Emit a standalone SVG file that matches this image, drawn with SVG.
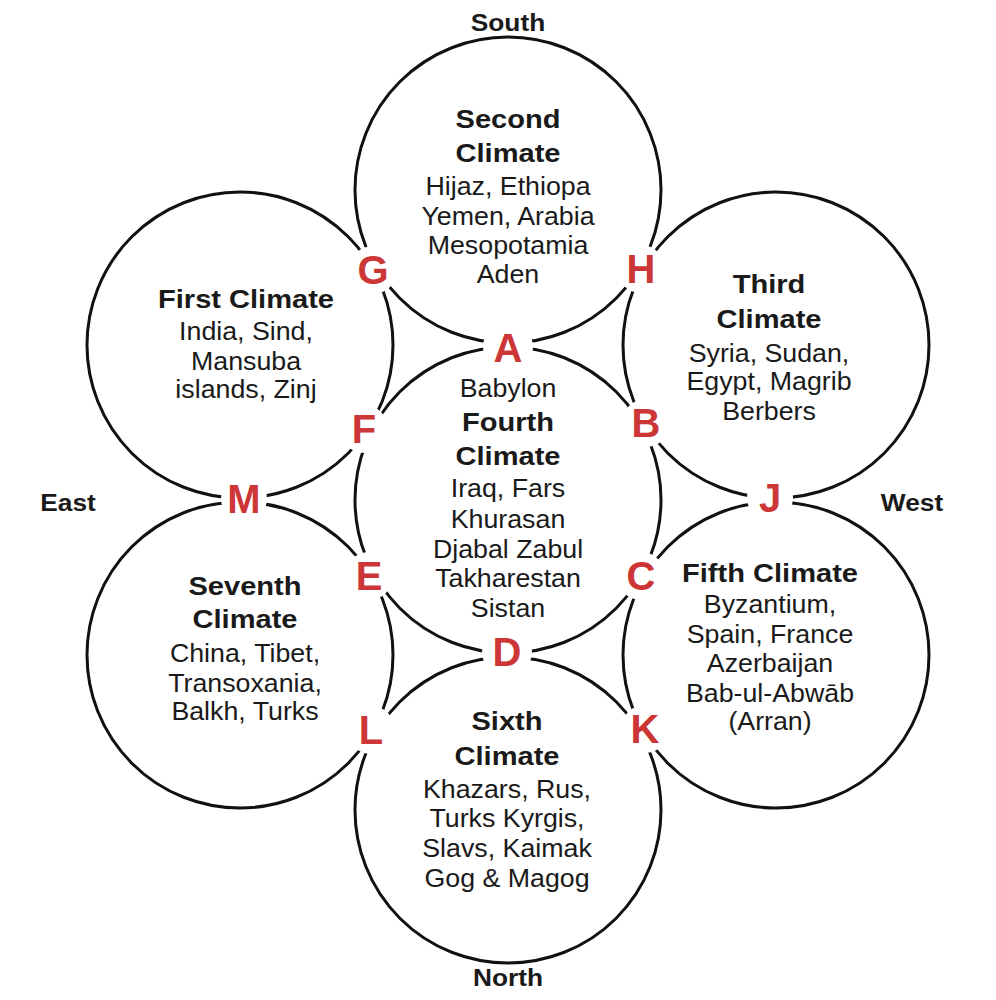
<svg xmlns="http://www.w3.org/2000/svg" width="996" height="1000" viewBox="0 0 996 1000">
<style>
.ring{fill:none;stroke:#111;stroke-width:3}
.gap{fill:#fff;stroke:none}
.t{font-family:"Liberation Sans",Arial,sans-serif;font-weight:bold;font-size:25.5px;fill:#1a1a1a;text-anchor:middle}
.b{font-family:"Liberation Sans",Arial,sans-serif;font-size:25.5px;fill:#1a1a1a;text-anchor:middle}
.L{font-family:"Liberation Sans",Arial,sans-serif;font-weight:bold;font-size:40px;fill:#cd3636;text-anchor:middle}
.d{font-family:"Liberation Sans",Arial,sans-serif;font-weight:bold;font-size:23.5px;fill:#1a1a1a;text-anchor:middle}
</style>
<rect width="996" height="1000" fill="#fff"/>
<g id="circles">
<circle id="ring-2" class="ring" cx="508" cy="190" r="153"/>
<circle id="ring-1" class="ring" cx="240" cy="345" r="153"/>
<circle id="ring-3" class="ring" cx="776" cy="345" r="153"/>
<circle id="ring-4" class="ring" cx="508" cy="500" r="153"/>
<circle id="ring-7" class="ring" cx="240" cy="655" r="153"/>
<circle id="ring-5" class="ring" cx="776" cy="655" r="153"/>
<circle id="ring-6" class="ring" cx="508" cy="810" r="153"/>
</g>
<g id="gaps">
<circle class="gap" cx="508" cy="347" r="25"/>
<circle class="gap" cx="373" cy="270" r="24"/>
<circle class="gap" cx="641" cy="269" r="24"/>
<circle class="gap" cx="364" cy="429" r="24"/>
<circle class="gap" cx="646" cy="423" r="24"/>
<circle class="gap" cx="244" cy="499" r="23"/>
<circle class="gap" cx="770" cy="498" r="23"/>
<circle class="gap" cx="369" cy="576" r="24"/>
<circle class="gap" cx="641" cy="576" r="24"/>
<circle class="gap" cx="507" cy="652" r="25"/>
<circle class="gap" cx="371" cy="730" r="24"/>
<circle class="gap" cx="645" cy="729" r="24"/>
</g>
<g id="climate-2">
<g transform="translate(508 0) scale(1.14 1)"><text class="t" x="0" y="128">Second</text><text class="t" x="0" y="162">Climate</text></g>
<g transform="translate(508 0) scale(1.05 1)"><text class="b" x="0" y="195">Hijaz, Ethiopa</text><text class="b" x="0" y="225">Yemen, Arabia</text><text class="b" x="0" y="254">Mesopotamia</text><text class="b" x="0" y="283">Aden</text></g>
</g>
<g id="climate-1">
<g transform="translate(246 0) scale(1.14 1)"><text class="t" x="0" y="308">First Climate</text></g>
<g transform="translate(246 0) scale(1.05 1)"><text class="b" x="0" y="340">India, Sind,</text><text class="b" x="0" y="370">Mansuba</text><text class="b" x="0" y="398">islands, Zinj</text></g>
</g>
<g id="climate-3">
<g transform="translate(769 0) scale(1.14 1)"><text class="t" x="0" y="293">Third</text><text class="t" x="0" y="328">Climate</text></g>
<g transform="translate(769 0) scale(1.05 1)"><text class="b" x="0" y="362">Syria, Sudan,</text><text class="b" x="0" y="390">Egypt, Magrib</text><text class="b" x="0" y="420">Berbers</text></g>
</g>
<g id="climate-4">
<g transform="translate(508 0) scale(1.05 1)"><text class="b" x="0" y="397">Babylon</text></g>
<g transform="translate(508 0) scale(1.14 1)"><text class="t" x="0" y="431">Fourth</text><text class="t" x="0" y="465">Climate</text></g>
<g transform="translate(508 0) scale(1.05 1)"><text class="b" x="0" y="497">Iraq, Fars</text><text class="b" x="0" y="528">Khurasan</text><text class="b" x="0" y="558">Djabal Zabul</text><text class="b" x="0" y="587">Takharestan</text><text class="b" x="0" y="617">Sistan</text></g>
</g>
<g id="climate-5">
<g transform="translate(770 0) scale(1.14 1)"><text class="t" x="0" y="582">Fifth Climate</text></g>
<g transform="translate(770 0) scale(1.05 1)"><text class="b" x="0" y="613">Byzantium,</text><text class="b" x="0" y="643">Spain, France</text><text class="b" x="0" y="672">Azerbaijan</text><text class="b" x="0" y="702">Bab-ul-Abwāb</text><text class="b" x="0" y="730">(Arran)</text></g>
</g>
<g id="climate-6">
<g transform="translate(507 0) scale(1.14 1)"><text class="t" x="0" y="730">Sixth</text><text class="t" x="0" y="765">Climate</text></g>
<g transform="translate(507 0) scale(1.05 1)"><text class="b" x="0" y="798">Khazars, Rus,</text><text class="b" x="0" y="827">Turks Kyrgis,</text><text class="b" x="0" y="857">Slavs, Kaimak</text><text class="b" x="0" y="887">Gog &amp; Magog</text></g>
</g>
<g id="climate-7">
<g transform="translate(245 0) scale(1.14 1)"><text class="t" x="0" y="595">Seventh</text><text class="t" x="0" y="628">Climate</text></g>
<g transform="translate(245 0) scale(1.05 1)"><text class="b" x="0" y="662">China, Tibet,</text><text class="b" x="0" y="692">Transoxania,</text><text class="b" x="0" y="720">Balkh, Turks</text></g>
</g>
<g id="junctions">
<text id="j-A" class="L" x="508" y="362">A</text>
<text id="j-G" class="L" x="373" y="284">G</text>
<text id="j-H" class="L" x="641" y="283">H</text>
<text id="j-F" class="L" x="364" y="443">F</text>
<text id="j-B" class="L" x="646" y="437">B</text>
<text id="j-M" class="L" x="244" y="513">M</text>
<text id="j-J" class="L" x="770" y="512">J</text>
<text id="j-E" class="L" x="369" y="590">E</text>
<text id="j-C" class="L" x="641" y="590">C</text>
<text id="j-D" class="L" x="507" y="666">D</text>
<text id="j-L" class="L" x="371" y="744">L</text>
<text id="j-K" class="L" x="645" y="743">K</text>
</g>
<g id="directions">
<g transform="translate(508 0) scale(1.12 1)"><text class="d" x="0" y="31">South</text></g>
<g transform="translate(68 0) scale(1.12 1)"><text class="d" x="0" y="511">East</text></g>
<g transform="translate(912 0) scale(1.12 1)"><text class="d" x="0" y="511">West</text></g>
<g transform="translate(508 0) scale(1.12 1)"><text class="d" x="0" y="986">North</text></g>
</g>
</svg>
